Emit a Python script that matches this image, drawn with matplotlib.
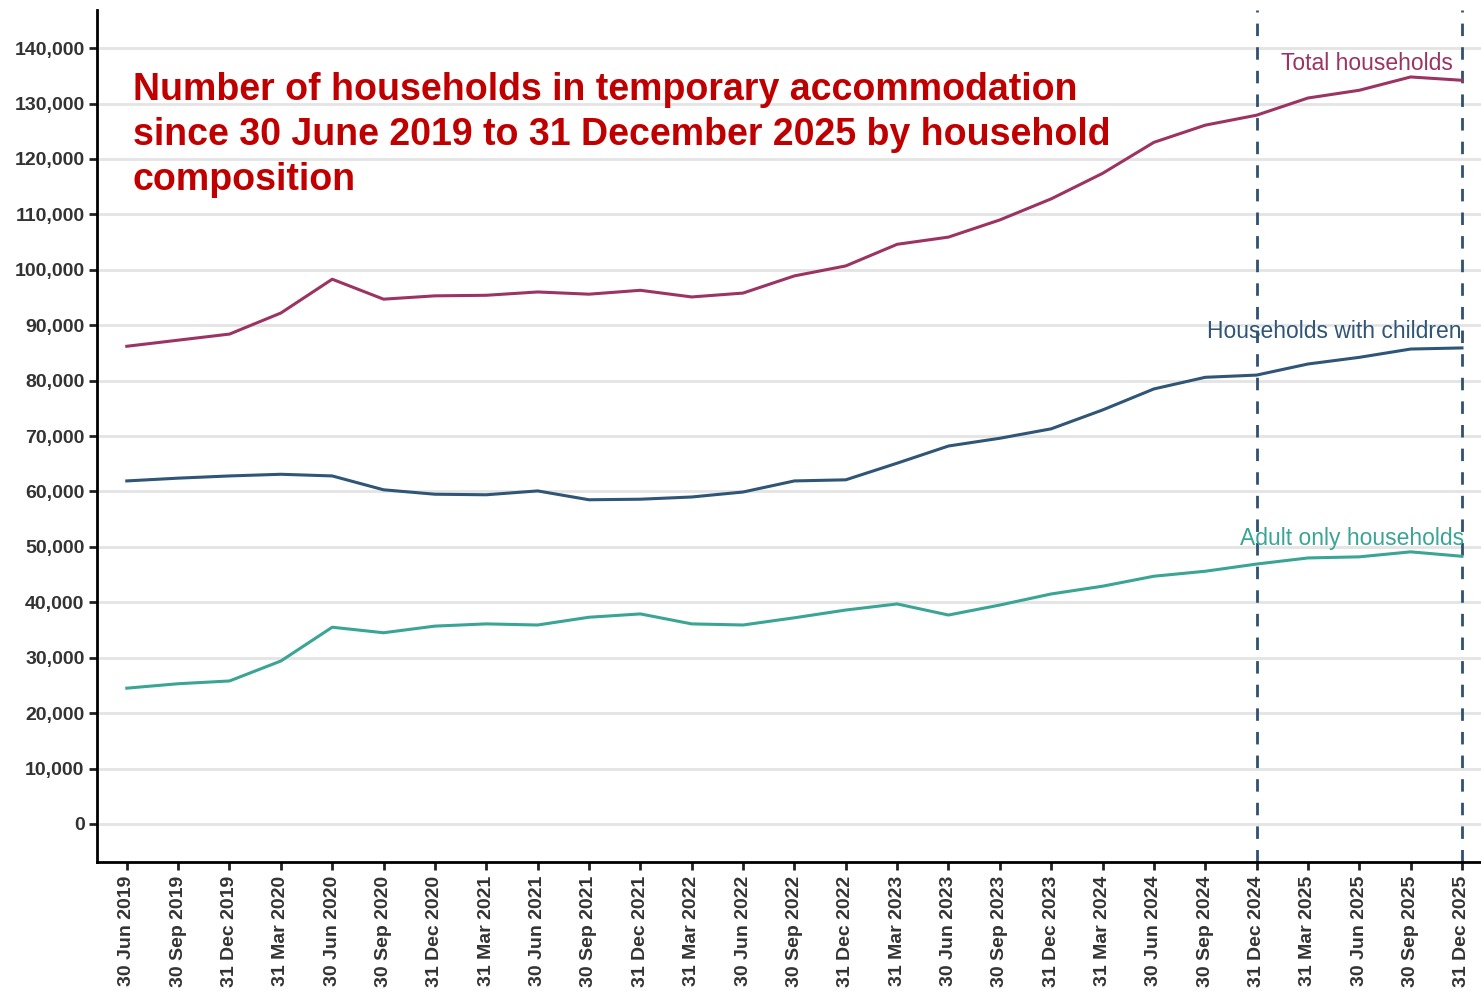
import numpy as np
import matplotlib.pyplot as plt

plt.rcParams['font.family'] = ['Liberation Sans', 'DejaVu Sans']

# quarter-end dates
quarters = ['30 Jun 2019', '30 Sep 2019', '31 Dec 2019', '31 Mar 2020', '30 Jun 2020',
            '30 Sep 2020', '31 Dec 2020', '31 Mar 2021', '30 Jun 2021', '30 Sep 2021',
            '31 Dec 2021', '31 Mar 2022', '30 Jun 2022', '30 Sep 2022', '31 Dec 2022',
            '31 Mar 2023', '30 Jun 2023', '30 Sep 2023', '31 Dec 2023', '31 Mar 2024',
            '30 Jun 2024', '30 Sep 2024', '31 Dec 2024', '31 Mar 2025', '30 Jun 2025',
            '30 Sep 2025', '31 Dec 2025']

total = [86200, 87300, 88400, 92200, 98300, 94700, 95300, 95400, 96000, 95600,
         96300, 95100, 95800, 98900, 100700, 104600, 105900, 109000, 112800, 117400,
         123000, 126100, 127900, 131000, 132400, 134800, 134200]
children = [61900, 62400, 62800, 63100, 62800, 60300, 59500, 59400, 60100, 58500,
            58600, 59000, 59900, 61900, 62100, 65100, 68200, 69600, 71300, 74700,
            78500, 80600, 81000, 83000, 84200, 85700, 85900]
adults = [24500, 25300, 25800, 29400, 35500, 34500, 35700, 36100, 35900, 37300,
          37900, 36100, 35900, 37200, 38600, 39700, 37700, 39500, 41500, 42900,
          44700, 45600, 46900, 48000, 48200, 49100, 48300]

marked = ['31 Dec 2024', '31 Dec 2025']
yticks = np.arange(0, 140001, 10000)

c_total = '#9b3462'
c_child = '#2f5577'
c_adult = '#3aa594'
c_dash = '#2f5070'

fig = plt.figure(figsize=(14.81, 9.91), dpi=100)
ax = fig.add_axes([0.0655, 0.130, 0.9345, 0.860])

x = np.arange(len(quarters))
ax.plot(x, total, color=c_total, lw=2.2)
ax.plot(x, children, color=c_child, lw=2.2)
ax.plot(x, adults, color=c_adult, lw=2.2)

for q in marked:
    ax.axvline(quarters.index(q), color=c_dash, lw=2, ls=(0, (4.5, 4)), zorder=1)

ax.set_xlim(-0.58, 26.37)
ax.set_ylim(-6900, 146900)
ax.set_yticks(yticks)
ax.set_yticklabels([f'{v:,}' for v in yticks])
ax.set_xticks(x)
ax.set_xticklabels(quarters, rotation=90, va='top')
ax.grid(axis='y', color='#e4e4e4', lw=2)
ax.set_axisbelow(True)

for s in ['top', 'right']:
    ax.spines[s].set_visible(False)
for s in ['left', 'bottom']:
    ax.spines[s].set_linewidth(2)
ax.tick_params(axis='both', length=6, width=2, labelsize=14, colors='#222222')
ax.tick_params(axis='x', pad=4)
ax.tick_params(axis='y', pad=3)
for lab in ax.get_xticklabels() + ax.get_yticklabels():
    lab.set_fontweight('bold')
    lab.set_color('#333333')

ax.text(25.82, 137300, 'Total households', color=c_total, fontsize=16.5, ha='right', va='center')
ax.text(26, 88900, 'Households with children', color=c_child, fontsize=16.5, ha='right', va='center')
ax.text(26.05, 51600, 'Adult only households', color=c_adult, fontsize=16.5, ha='right', va='center')

fig.text(0.0898, 0.927, 'Number of households in temporary accommodation\n'
         'since 30 June 2019 to 31 December 2025 by household\ncomposition',
         color='#c00000', fontsize=27, fontweight='bold', ha='left', va='top', linespacing=1.31)

fig.savefig('out.png', dpi=100)
